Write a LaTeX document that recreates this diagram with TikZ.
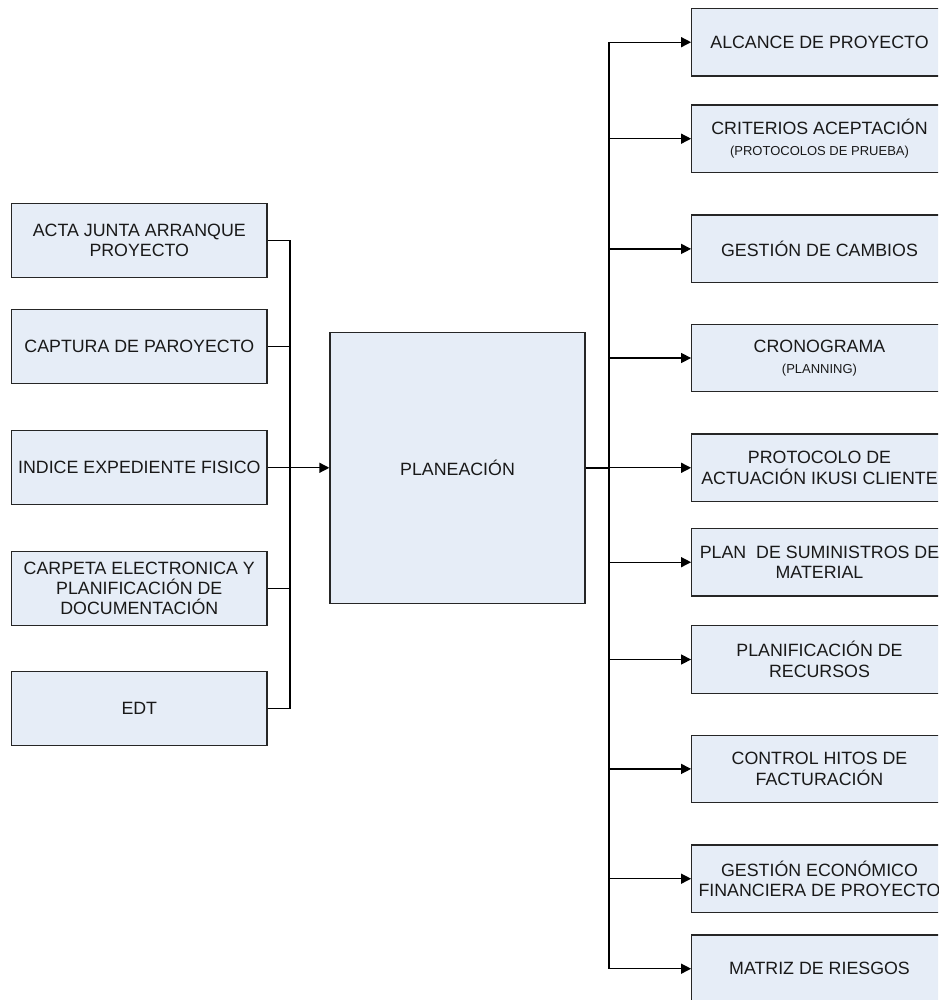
\documentclass[tikz,border=0pt]{standalone}
\usepackage{fontspec}
\setmainfont{Liberation Sans}
\usetikzlibrary{arrows.meta}
\definecolor{boxfill}{RGB}{230,237,247}
\definecolor{txt}{RGB}{25,25,25}
\tikzset{
  box/.style={draw=black!85, line width=1.3pt, fill=boxfill, rectangle, inner sep=0pt,
    text=txt, align=center, font=\fontsize{17.8}{20.3}\selectfont},
  lbox/.style={box, minimum width=255.5pt, minimum height=74pt},
  rbox/.style={box, minimum width=255.5pt, minimum height=67.5pt},
  conn/.style={line width=1.3pt, black},
  busline/.style={line width=2pt, black},
  arr/.style={line width=1.3pt, black, -{Triangle[length=10pt,width=10pt]}},
}
\newcommand{\smalltxt}[1]{{\fontsize{13}{20.3}\selectfont #1}}
\begin{document}
\begin{tikzpicture}[x=1pt,y=-1pt]
\useasboundingbox (0,0) rectangle (938,1000);
\clip (0,0) rectangle (938,1000);
% left boxes
\node[lbox] (l1) at (139.3,240.2) {ACTA JUNTA ARRANQUE\\PROYECTO};
\node[lbox] (l2) at (139.3,346.5) {CAPTURA DE PAROYECTO};
\node[lbox] (l3) at (139.3,467.8) {INDICE EXPEDIENTE FISICO};
\node[lbox] (l4) at (139.3,588.2) {CARPETA ELECTRONICA Y\\PLANIFICACIÓN DE\\DOCUMENTACIÓN};
\node[lbox] (l5) at (139.3,708.8) {EDT};
% central box
\node[box, minimum width=255pt, minimum height=271pt] (plan) at (457.5,467.8) {PLANEACIÓN};
% right boxes
\node[rbox] (r1) at (819.5,42.2) {ALCANCE DE PROYECTO};
\node[rbox] (r2) at (819.5,138.7) {CRITERIOS ACEPTACIÓN\\\smalltxt{(PROTOCOLOS DE PRUEBA)}};
\node[rbox] (r3) at (819.5,248.9) {GESTIÓN DE CAMBIOS};
\node[rbox] (r4) at (819.5,358) {CRONOGRAMA\\\smalltxt{(PLANNING)}};
\node[rbox] (r5) at (819.5,467.8) {PROTOCOLO DE\\ACTUACIÓN IKUSI CLIENTE};
\node[rbox] (r6) at (819.5,562.2) {PLAN~ DE SUMINISTROS DE\\MATERIAL};
\node[rbox] (r7) at (819.5,659.5) {PLANIFICACIÓN DE\\RECURSOS};
\node[rbox] (r8) at (819.5,768.9) {CONTROL HITOS DE\\FACTURACIÓN};
\node[rbox] (r9) at (819.5,878.7) {GESTIÓN ECONÓMICO\\FINANCIERA DE PROYECTO};
\node[rbox] (r10) at (819.5,968.7) {MATRIZ DE RIESGOS};
% buses
\coordinate (lbus) at (290,0);
\coordinate (rbus) at (609,0);
\foreach \n in {l1,l2,l3,l4,l5} {\draw[conn] (\n.east) -- (\n.east -| lbus);}
\draw[busline] (l1.east -| lbus) -- (l5.east -| lbus);
\draw[arr] (plan.west -| lbus) -- (plan.west);
\draw[busline] (plan.east) -- (plan.east -| rbus);
\draw[busline] (r1.west -| rbus) -- (r10.west -| rbus);
\foreach \n in {r1,r2,r3,r4,r5,r6,r7,r8,r9,r10} {\draw[arr] (\n.west -| rbus) -- (\n.west);}
\end{tikzpicture}
\end{document}
